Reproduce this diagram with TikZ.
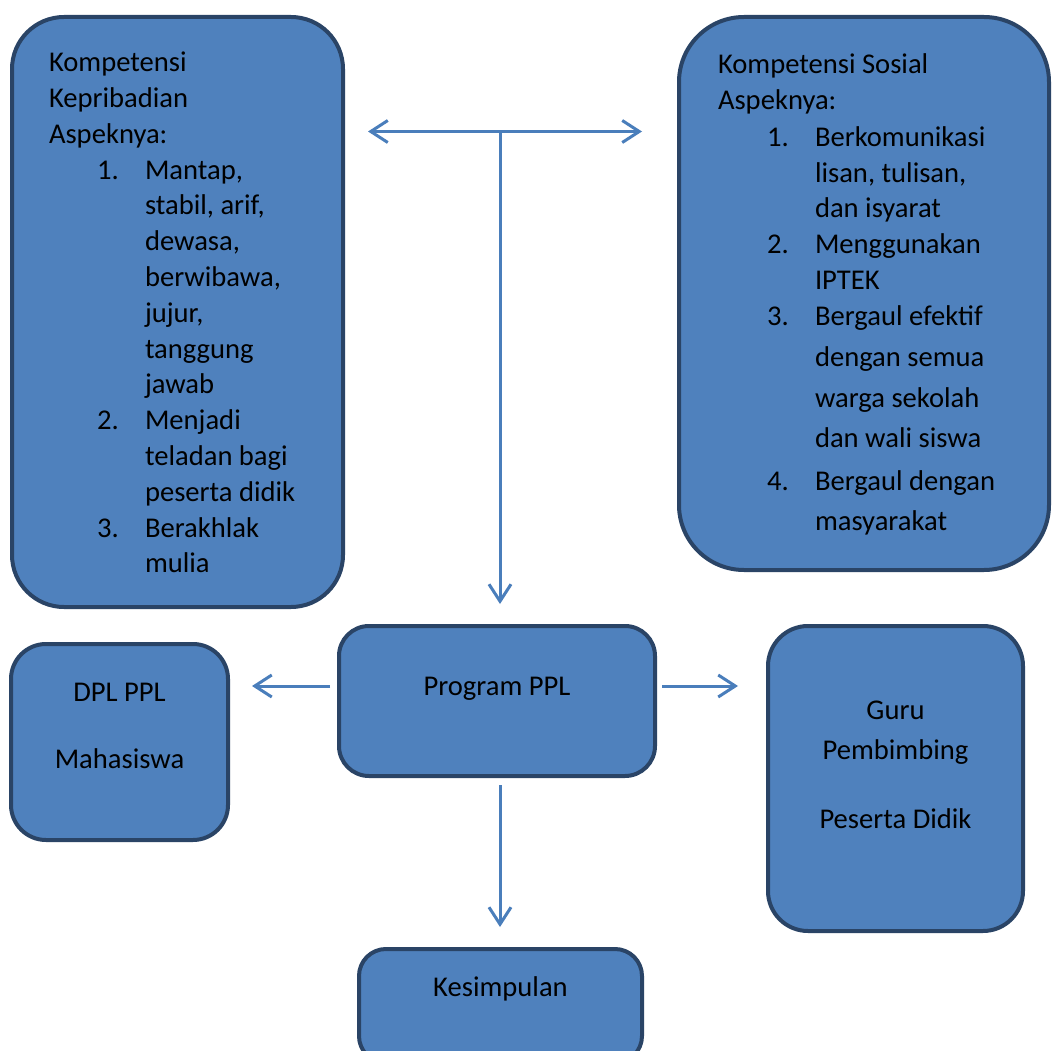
\documentclass[tikz,border=0pt]{standalone}
\usepackage{fontspec}
\setmainfont{Carlito}
\usetikzlibrary{arrows.meta}
\definecolor{boxfill}{HTML}{4F81BD}
\definecolor{boxline}{HTML}{2A4466}
\definecolor{arrowc}{HTML}{4A7EBB}
\tikzset{
  box/.style={draw=boxline, fill=boxfill, line width=4pt, inner sep=0pt, outer sep=0pt},
  txt/.style={font=\fontsize{28.6pt}{35.8pt}\selectfont, inner sep=0pt, outer sep=0pt, text=black},
  lt/.style={txt, anchor=base west},
  ct/.style={txt, anchor=base},
  conn/.style={draw=arrowc, line width=3pt},
  tip/.style={-{Straight Barb[length=17pt,width=22pt]}},
  tips/.style={{Straight Barb[length=17pt,width=22pt]}-{Straight Barb[length=17pt,width=22pt]}}
}
\begin{document}
\begin{tikzpicture}[x=1pt,y=-1pt]
\useasboundingbox (0,0) rectangle (1053,1051);
\clip (0,0) rectangle (1053,1051);
\fill[white] (0,0) rectangle (1053,1051);

% boxes
\node[box, minimum width=331pt, minimum height=590pt, rounded corners=52pt] (kep) at (177.5,312) {};
\node[box, minimum width=370pt, minimum height=553pt, rounded corners=65pt] (sos) at (864,293.5) {};
\node[box, minimum width=217pt, minimum height=196pt, rounded corners=35pt] (dpl) at (119.5,742) {};
\node[box, minimum width=316pt, minimum height=150pt, rounded corners=30pt] (prog) at (497,701) {};
\node[box, minimum width=255pt, minimum height=305pt, rounded corners=40pt] (guru) at (895.5,778.5) {};
\node[box, minimum width=283pt, minimum height=114pt, rounded corners=27pt] (kes) at (500.5,1006) {};

% left box text
\node[lt] (k1) at (49,71.7) {Kompetensi};
\node[lt] (k2) at (49,107.5) {Kepribadian};
\node[lt] (k3) at (49,143.3) {Aspeknya:};
\node[lt] (kn1) at (97,179.1) {1.};
\node[lt] (k4) at (145,179.1) {Mantap,};
\node[lt] (k5) at (145,214.9) {stabil, arif,};
\node[lt] (k6) at (145,250.7) {dewasa,};
\node[lt] (k7) at (145,286.5) {berwibawa,};
\node[lt] (k8) at (145,322.3) {jujur,};
\node[lt] (k9) at (145,358.1) {tanggung};
\node[lt] (k10) at (145,393.9) {jawab};
\node[lt] (kn2) at (97,429.7) {2.};
\node[lt] (k11) at (145,429.7) {Menjadi};
\node[lt] (k12) at (145,465.5) {teladan bagi};
\node[lt] (k13) at (145,501.3) {peserta didik};
\node[lt] (kn3) at (97,537.1) {3.};
\node[lt] (k14) at (145,537.1) {Berakhlak};
\node[lt] (k15) at (145,572.9) {mulia};

% right box text
\node[lt] (s1) at (718,73.5) {Kompetensi Sosial};
\node[lt] (s2) at (718,110) {Aspeknya:};
\node[lt] (sn1) at (767,146.5) {1.};
\node[lt] (s3) at (815,146.5) {Berkomunikasi};
\node[lt] (s4) at (815,182.2) {lisan, tulisan,};
\node[lt] (s5) at (815,218) {dan isyarat};
\node[lt] (sn2) at (767,253.7) {2.};
\node[lt] (s6) at (815,253.7) {Menggunakan};
\node[lt] (s7) at (815,289.5) {IPTEK};
\node[lt] (sn3) at (767,326) {3.};
\node[lt] (s8) at (815,326) {Bergaul efektif};
\node[lt] (s9) at (815,366.5) {dengan semua};
\node[lt] (s10) at (815,407) {warga sekolah};
\node[lt] (s11) at (815,447.5) {dan wali siswa};
\node[lt] (sn4) at (767,490.5) {4.};
\node[lt] (s12) at (815,490.5) {Bergaul dengan};
\node[lt] (s13) at (815,530) {masyarakat};

% middle/bottom texts
\node[ct] (d1) at (119.5,701.7) {DPL PPL};
\node[ct] (d2) at (119.5,768.3) {Mahasiswa};
\node[ct] (p1) at (497,695) {Program PPL};
\node[ct] (g1) at (895.5,719.3) {Guru};
\node[ct] (g2) at (895.5,759.3) {Pembimbing};
\node[ct] (g3) at (895.5,828.3) {Peserta Didik};
\node[ct] (ks) at (500.5,996.7) {Kesimpulan};

% connector points
\coordinate (tL) at (368,131.5);
\coordinate (tR) at (642,131.5);
\coordinate (tJ) at (500,131.5);
\coordinate (tB) at (500,604);
\coordinate (lS) at (330,686);
\coordinate (lE) at (252,686);
\coordinate (rS) at (662,686);
\coordinate (rE) at (738,686);
\coordinate (dS) at (500,785);
\coordinate (dE) at (500,927);

\draw[conn, tips] (tL) -- (tR);
\draw[conn, tip] (tJ) -- (tB);
\draw[conn, tip] (lS) -- (lE);
\draw[conn, tip] (rS) -- (rE);
\draw[conn, tip] (dS) -- (dE);
\end{tikzpicture}
\end{document}
